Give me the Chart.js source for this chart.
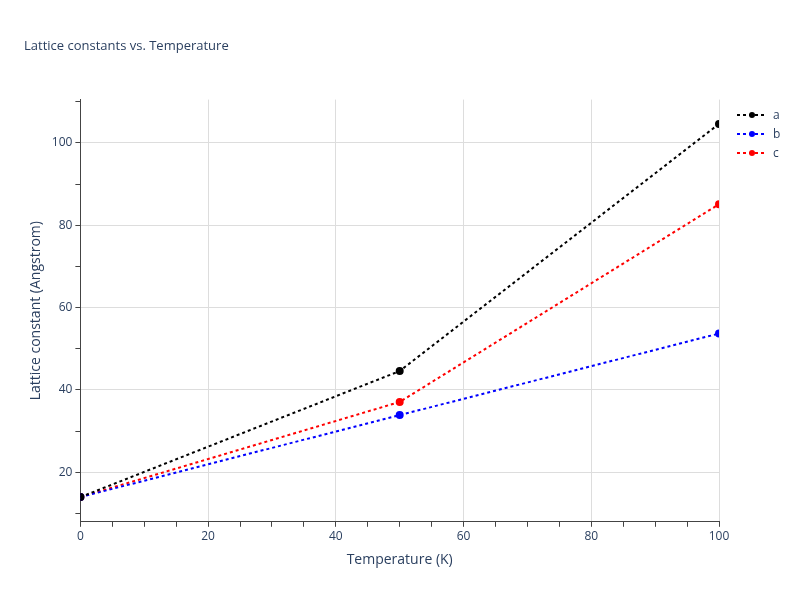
<!DOCTYPE html>
<html>
<head>
<meta charset="utf-8">
<script src="https://cdn.jsdelivr.net/npm/chart.js@4/dist/chart.umd.min.js"></script>
<style>
  body { margin: 0; background: #fff; }
  #wrap { width: 800px; height: 600px; position: relative; }
  #legend { position: absolute; left: 737px; top: 105px; font: 12px "Open Sans", Arial, sans-serif; color: #2a3f5f; }
  #legend div { height: 19px; display: flex; align-items: center; }
  #legend svg { margin-right: 6px; }
</style>
</head>
<body>
<div id="wrap"><canvas id="chart"></canvas><div id="legend"></div></div>
<script>
const temperatures = [0, 50, 100];
const aValues = [14.0, 44.6, 104.6];
const bValues = [14.0, 33.9, 53.7];
const cValues = [14.0, 37.1, 85.1];
const seriesNames = ['a', 'b', 'c'];
const seriesColors = ['#000000', '#0000ff', '#ff0000'];

const font = { family: '"Open Sans", Arial, sans-serif' };
const gridColor = ctx => (ctx.tick && ctx.tick.value % 20 === 0) ? '#dddddd' : 'rgba(0,0,0,0)';

function series(label, values, color) {
    return {
        label: label,
        data: temperatures.map((t, i) => ({ x: t, y: values[i] })),
        borderColor: color,
        backgroundColor: color,
        borderWidth: 2,
        borderDash: [3, 3],
        pointRadius: 3,
        fill: false
    };
}

const allValues = [aValues, bValues, cValues];
const datasets = seriesNames.map((n, i) => series(n, allValues[i], seriesColors[i]));

document.getElementById('legend').innerHTML = seriesNames.map((n, i) =>
    `<div><svg width="30" height="8"><line x1="0" y1="4" x2="30" y2="4" stroke="${seriesColors[i]}" stroke-width="2" stroke-dasharray="3,3"/><circle cx="15" cy="4" r="3" fill="${seriesColors[i]}"/></svg>${n}</div>`
).join('');

new Chart(document.getElementById('chart').getContext('2d'), {
    type: 'line',
    data: { datasets: datasets },
    options: {
        responsive: true,
        maintainAspectRatio: false,
        animation: false,
        layout: { padding: { left: 24, right: 81, top: 28, bottom: 28 } },
        plugins: {
            title: {
                display: true,
                text: 'Lattice constants vs. Temperature',
                align: 'start',
                color: '#2a3f5f',
                font: { ...font, size: 13, weight: 'normal' },
                padding: { top: 10, bottom: 46 }
            },
            legend: { display: false },
            tooltip: { enabled: false }
        },
        scales: {
            x: {
                type: 'linear',
                min: 0,
                max: 100,
                ticks: {
                    stepSize: 5,
                    autoSkip: false,
                    color: '#2a3f5f',
                    font: { ...font, size: 12 },
                    callback: v => v % 20 === 0 ? v : ''
                },
                grid: { color: gridColor, tickColor: '#444', tickLength: 5 },
                border: { display: true, color: '#444' },
                title: { display: true, text: 'Temperature (K)', color: '#2a3f5f', font: { ...font, size: 14 } }
            },
            y: {
                type: 'linear',
                min: 8,
                max: 110.5,
                afterBuildTicks: axis => {
                    const t = [];
                    for (let v = 10; v <= 110; v += 10) t.push({ value: v });
                    axis.ticks = t;
                },
                ticks: {
                    color: '#2a3f5f',
                    font: { ...font, size: 12 },
                    callback: v => v % 20 === 0 ? v : ''
                },
                grid: { color: gridColor, tickColor: '#444', tickLength: 5 },
                border: { display: true, color: '#444' },
                title: { display: true, text: 'Lattice constant (Angstrom)', color: '#2a3f5f', font: { ...font, size: 14 } }
            }
        }
    }
});
</script>
</body>
</html>
